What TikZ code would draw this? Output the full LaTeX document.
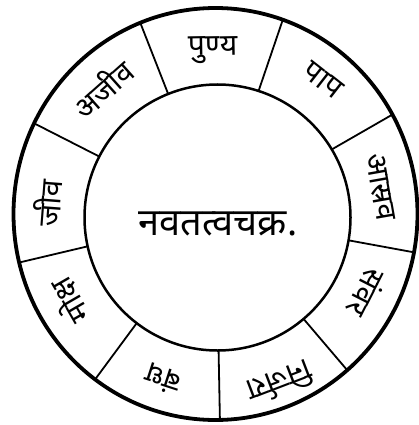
\documentclass[tikz,border=0pt]{standalone}
\usepackage{fontspec}
\newfontfamily\deva[Script=Devanagari]{Noto Sans}
\begin{document}
\begin{tikzpicture}[x=1pt,y=-1pt,
  lbl/.style={font=\deva\bfseries\fontsize{30}{30}\selectfont, inner sep=0pt},
  ttl/.style={font=\deva\bfseries\fontsize{38}{38}\selectfont, inner sep=0pt},
  divider/.style={line width=1.8pt},
  ring/.style={line width=3.8pt},
  hub/.style={line width=2.5pt}]
\useasboundingbox (0,0) rectangle (419,425);
\coordinate (c) at (216,216);
% dividers, clipped to the outer ring
\begin{scope}
  \clip (215.5,214) ellipse [x radius=202, y radius=206];
  \foreach \a in {111.4,71.2,29.9,-10.4,-49.6,-88.9,-126.5,-166.7,153}
    \draw[divider] ([shift={(216,216)}]-\a:100) -- ([shift={(216,216)}]-\a:240);
\end{scope}
% hub
\fill[white] (217.5,217.5) circle [radius=133];
\draw[hub] (217.5,217.5) circle [radius=133];
% outer ring
\draw[ring] (215.5,214) ellipse [x radius=202, y radius=206];
% labels
\node[lbl, rotate=1]     (punya)   at ([shift={(216,216)}]-91:166)   {पुण्य};
\node[lbl, rotate=-38]   (paap)    at ([shift={(216,216)}]-51.8:173) {पाप};
\node[lbl, rotate=-80]   (asrav)   at ([shift={(216,216)}]-10:167)   {आस्रव};
\node[lbl, rotate=-117]  (samvar)  at ([shift={(216,216)}]27:170)    {संवर};
\node[lbl, rotate=-159]  (nirjara) at ([shift={(216,216)}]69:179)    {निर्जरा};
\node[lbl, rotate=162]   (bandh)   at ([shift={(216,216)}]108:172)   {बंध};
\node[lbl, rotate=120]   (moksh)   at ([shift={(216,216)}]150:170)   {मोक्ष};
\node[lbl, rotate=85.6]  (jeev)    at ([shift={(216,216)}]-175.6:169) {जीव};
\node[lbl, rotate=41.7]  (ajeev)   at ([shift={(216,216)}]-131.7:171) {अजीव};
\node[ttl] (title) at (218,224) {नवतत्वचक्र.};
\end{tikzpicture}
\end{document}
